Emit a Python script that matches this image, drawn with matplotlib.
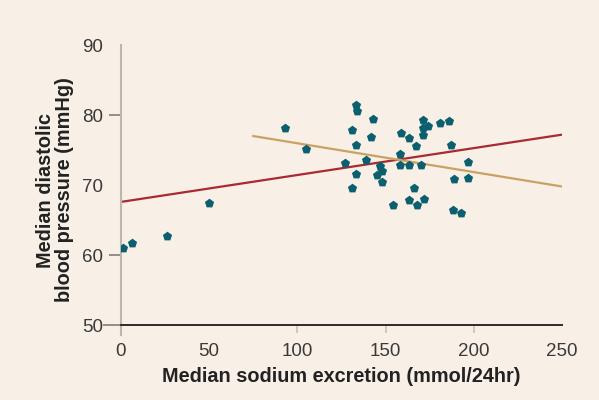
import matplotlib.pyplot as plt

# median sodium excretion (mmol/24hr) vs median diastolic BP (mmHg)
sodium = [1, 6, 26, 50, 93, 105, 133, 134, 143, 131, 142, 133, 127, 139, 133, 131,
          147, 148, 145, 148, 159, 163, 167, 158, 158, 163, 170, 171, 171, 174, 171,
          181, 186, 187, 197, 189, 197, 166, 163, 172, 168, 154, 188, 193]
diastolic = [61.0, 61.7, 62.8, 67.5, 78.2, 75.2, 81.5, 80.6, 79.5, 77.8, 76.8, 75.7,
             73.1, 73.6, 71.6, 69.6, 72.7, 72.0, 71.5, 70.4, 77.5, 76.7, 75.6, 74.4,
             72.8, 72.8, 72.9, 79.3, 78.1, 78.4, 77.1, 78.9, 79.2, 75.7, 73.3, 70.8,
             71.0, 69.6, 67.9, 68.0, 67.1, 67.1, 66.5, 66.0]

# fitted lines (end points)
all_fit_x = [0, 250]
all_fit_y = [67.6, 77.2]
high_fit_x = [75, 250]
high_fit_y = [77.0, 69.8]

x_ticks = [0, 50, 100, 150, 200, 250]
y_ticks = [50, 60, 70, 80, 90]

bg = '#f8f0e6'
teal = '#0b5f6e'
red = '#a82a32'
tan = '#c9a263'

plt.rcParams['font.family'] = ['Liberation Sans', 'DejaVu Sans']

fig = plt.figure(figsize=(5.99, 4.0), dpi=100, facecolor=bg)
ax = fig.add_axes([0.202, 0.1625, 0.7362, 0.725], facecolor=bg)

ax.plot(all_fit_x, all_fit_y, color=red, lw=1.6, zorder=2)
ax.plot(high_fit_x, high_fit_y, color=tan, lw=1.6, zorder=2)
ax.scatter(sodium, diastolic, s=48, color=teal, marker='p', zorder=3, linewidths=0)

ax.set_xlim(0, 250)
ax.set_ylim(48.6, 90)

for side in ['top', 'right']:
    ax.spines[side].set_visible(False)
ax.spines['left'].set_color('#bdb5ae')
ax.spines['left'].set_linewidth(1.5)
ax.spines['bottom'].set_color('#2b2b2b')
ax.spines['bottom'].set_linewidth(1.4)
ax.spines['bottom'].set_position(('data', 50))

ax.set_xticks(x_ticks)
ax.set_yticks(y_ticks)
ax.tick_params(axis='x', direction='out', length=6, width=1.2, color='#c8c0b8',
               pad=7, labelsize=13.5, labelcolor='#3a3a3a')
ax.tick_params(axis='y', direction='out', length=9, width=1.3, color='#8a8580',
               pad=4, labelsize=13.5, labelcolor='#3a3a3a')

xt = ax.xaxis.get_major_ticks()
for i in [0, 1, 5]:
    xt[i].tick1line.set_visible(False)
yt = ax.yaxis.get_major_ticks()
for i in [2, 4]:
    yt[i].tick1line.set_visible(False)
yt[0].tick1line.set_markersize(13)
yt[0].tick1line.set_color('#2b2b2b')

ax.set_xlabel('Median sodium excretion (mmol/24hr)', fontsize=14.3,
              fontweight='bold', color='#222222', labelpad=5)
ax.set_ylabel('Median diastolic\nblood pressure (mmHg)', fontsize=14.3,
              fontweight='bold', color='#222222', labelpad=6, linespacing=0.95)

fig.savefig('out.png', dpi=100, facecolor=bg)
